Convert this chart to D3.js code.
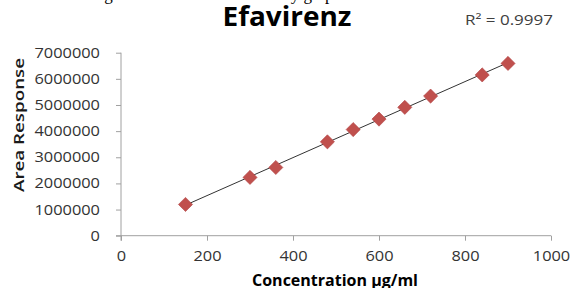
<!DOCTYPE html>
<html>
<head>
<meta charset="utf-8">
<script src="https://cdn.jsdelivr.net/npm/d3@7"></script>
<style>
  body { margin: 0; background: #fff; }
  text { font-family: "Open Sans", sans-serif; }
</style>
</head>
<body>
<div id="main"></div>
<script>
const concentrations = [150, 300, 360, 480, 540, 600, 660, 720, 840, 900];
const responses = [1195000, 2230000, 2610000, 3590000, 4060000, 4460000, 4910000, 5340000, 6150000, 6590000];
const xTicks = [0, 200, 400, 600, 800, 1000];
const yTicks = [0, 1000000, 2000000, 3000000, 4000000, 5000000, 6000000, 7000000];
const title = "Efavirenz";
const rSquared = "R² = 0.9997";
const xTitle = "Concentration μg/ml";
const yTitle = "Area Response";
const caption = "Figure 4: Calibration Linearity graph";

const width = 571;
const height = 288;

const xScale = d3.scaleLinear()
  .domain([0, 1000])
  .range([121, 551]);

const yScale = d3.scaleLinear()
  .domain([0, 7000000])
  .range([235.7, 52.7]);

const svg = d3.select("#main")
  .append("svg")
  .attr("width", width)
  .attr("height", height);

// caption line of the page, cut off at the top
svg.append("text")
  .attr("x", 90)
  .attr("y", -0.5)
  .style("font-family", "'Liberation Serif', serif")
  .style("font-size", "17px")
  .text(caption);

svg.append("text")
  .attr("x", 287)
  .attr("y", 26)
  .attr("text-anchor", "middle")
  .attr("textLength", 129)
  .attr("lengthAdjust", "spacingAndGlyphs")
  .style("font-size", "26px")
  .style("font-weight", "bold")
  .text(title);

svg.append("text")
  .attr("x", 465)
  .attr("y", 25)
  .attr("textLength", 88)
  .attr("lengthAdjust", "spacingAndGlyphs")
  .style("font-size", "14px")
  .style("fill", "#404040")
  .text(rSquared);

const xAxis = d3.axisBottom(xScale)
  .tickValues(xTicks)
  .tickSize(5)
  .tickSizeOuter(0)
  .tickFormat(d3.format("d"));

const yAxis = d3.axisLeft(yScale)
  .tickValues(yTicks)
  .tickSize(5)
  .tickSizeOuter(0)
  .tickFormat(d3.format("d"));

const gx = svg.append("g")
  .attr("transform", "translate(0," + yScale(0) + ")")
  .call(xAxis);

const gy = svg.append("g")
  .attr("transform", "translate(" + xScale(0) + ",0)")
  .call(yAxis);

[gx, gy].forEach(g => {
  g.select(".domain").attr("stroke", "#a0a0a0");
  g.selectAll(".tick line").attr("stroke", "#a0a0a0");
  g.selectAll(".tick text")
    .style("font-size", "14px")
    .style("fill", "#333")
    .attr("transform", "scale(1.17,1)");
});

gx.selectAll(".tick text").attr("y", 15.5);
gy.selectAll(".tick text").attr("x", -18);

// y axis runs a bit past the x axis, like Excel
gy.select(".domain").attr("d", "M0," + yScale(7000000) + "V" + (yScale(0) + 5));
gx.select(".domain").attr("d", "M" + (xScale(0) - 5) + ",0H" + xScale(1000));

svg.append("text")
  .attr("x", 335)
  .attr("y", 286)
  .attr("text-anchor", "middle")
  .attr("textLength", 166)
  .attr("lengthAdjust", "spacingAndGlyphs")
  .style("font-size", "15.5px")
  .style("font-weight", "bold")
  .text(xTitle);

svg.append("text")
  .attr("transform", "translate(24,125) rotate(-90)")
  .attr("text-anchor", "middle")
  .attr("textLength", 134)
  .attr("lengthAdjust", "spacingAndGlyphs")
  .style("font-size", "14px")
  .style("font-weight", "600")
  .style("fill", "#1a1a1a")
  .text(yTitle);

// linear trendline
const mx = d3.mean(concentrations);
const my = d3.mean(responses);
const slope = d3.sum(concentrations, (c, i) => (c - mx) * (responses[i] - my)) /
  d3.sum(concentrations, c => (c - mx) * (c - mx));
const intercept = my - slope * mx;
const xExt = d3.extent(concentrations);

svg.append("line")
  .attr("x1", xScale(xExt[0]))
  .attr("y1", yScale(intercept + slope * xExt[0]))
  .attr("x2", xScale(xExt[1]))
  .attr("y2", yScale(intercept + slope * xExt[1]))
  .attr("stroke", "#333")
  .attr("stroke-width", 1);

svg.selectAll("path.point")
  .data(concentrations)
  .enter()
  .append("path")
  .attr("class", "point")
  .attr("d", d3.symbol(d3.symbolSquare, 100))
  .attr("transform", (d, i) => "translate(" + xScale(d) + "," + yScale(responses[i]) + ") rotate(45)")
  .attr("fill", "#c0504d")
  .attr("stroke", "#b5494a")
  .attr("stroke-width", 0.6);
</script>
</body>
</html>
